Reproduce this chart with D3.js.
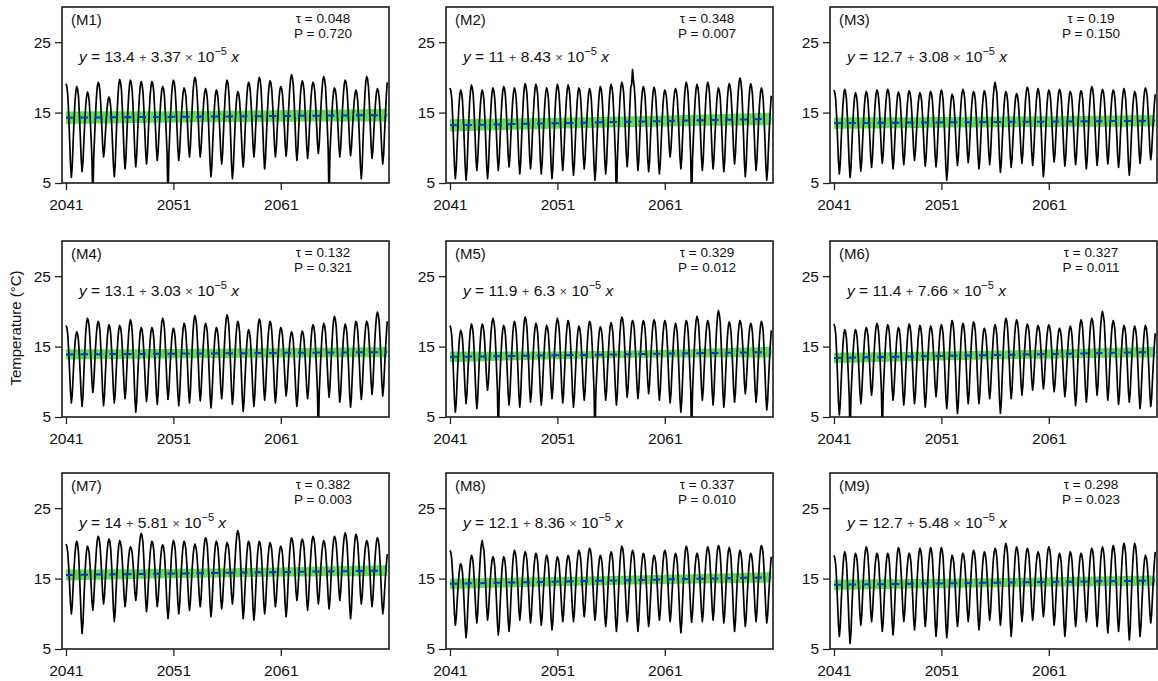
<!DOCTYPE html>
<html>
<head>
<meta charset="utf-8">
<script src="https://cdn.jsdelivr.net/npm/d3@7"></script>
<style>
  body { margin: 0; background: #fff; }
  svg { display: block; }
  text { font-family: "Liberation Sans", Arial, Helvetica, sans-serif; }
</style>
</head>
<body>
<svg id="chart" width="1158" height="681"></svg>
<script>
// Model labels and Mann-Kendall / Sen trend statistics for each panel
const panelLabels = ["M1", "M2", "M3", "M4", "M5", "M6", "M7", "M8", "M9"];
const tauValues = ["0.048", "0.348", "0.19", "0.132", "0.329", "0.327", "0.382", "0.337", "0.298"];
const pValues = ["0.720", "0.007", "0.150", "0.321", "0.012", "0.011", "0.003", "0.010", "0.023"];
// Trend line: y = intercept + slope × 10^-5 × (days since 1970-01-01)
const intercepts = ["13.4", "11", "12.7", "13.1", "11.9", "11.4", "14", "12.1", "12.7"];
const slopes = ["3.37", "8.43", "3.08", "3.03", "6.3", "7.66", "5.81", "8.36", "5.48"];
// Half-width (°C) of the trend confidence band at mid-period and at the period ends
const bandHalfMid = [0.80, 0.76, 0.75, 0.66, 0.52, 0.62, 0.64, 0.64, 0.64];
const bandHalfEnd = [0.90, 0.88, 0.82, 0.72, 0.76, 0.75, 0.78, 0.74, 0.74];
const yTicks = [5, 15, 25];
const xTicks = [2041, 2051, 2061];
const startYear = 2041;

// Monthly mean temperature (°C), Jan 2041 – Dec 2070, one row per year
const tempM1 = [
19.1,18.7,17.5,14.8,11.4,7.8,5.8,7.4,10.7,13.8,16.4,18.0,
18.7,18.3,17.3,14.8,11.7,8.4,6.6,8.0,10.9,13.6,15.9,17.3,
17.9,17.6,16.6,14.4,11.6,8.6,2.0,8.5,11.7,14.6,17.1,18.7,
19.3,19.0,18.0,15.9,13.2,10.3,8.7,9.7,11.9,14.0,15.7,16.8,
17.2,16.9,15.8,13.6,10.6,7.6,5.9,7.6,11.1,14.5,17.2,19.0,
19.7,19.3,18.2,15.6,12.3,8.9,7.0,8.5,11.8,14.8,17.3,19.0,
19.6,19.2,18.1,15.7,12.5,9.1,7.3,8.8,11.9,14.8,17.2,18.8,
19.4,19.0,18.0,15.7,12.6,9.5,7.7,9.1,12.1,15.0,17.3,18.8,
19.4,19.1,18.1,15.8,12.9,9.9,8.2,9.5,12.2,14.7,16.8,18.2,
18.7,18.4,17.4,15.1,12.2,9.2,2.0,9.0,12.1,15.0,17.4,19.0,
19.6,19.3,18.2,16.0,13.0,9.9,8.2,9.4,12.1,14.6,16.6,18.0,
18.5,18.2,17.3,15.4,12.8,10.2,8.7,10.1,13.0,15.7,18.0,19.4,
20.0,19.7,18.6,16.4,13.5,10.4,8.7,9.9,12.4,14.7,16.7,17.9,
18.4,18.0,16.9,14.4,11.2,7.8,5.9,7.4,10.6,13.5,16.0,17.6,
18.2,17.9,16.9,14.8,12.1,9.3,7.7,9.1,12.2,15.1,17.5,19.0,
19.6,19.2,17.9,15.1,11.5,7.7,5.6,7.1,10.3,13.3,15.8,17.4,
18.0,17.7,16.7,14.6,11.8,8.9,7.3,8.7,11.9,14.7,17.1,18.7,
19.3,19.0,18.0,15.9,13.2,10.3,8.7,10.1,13.0,15.7,18.0,19.4,
20.0,19.6,18.4,15.8,12.5,9.0,7.0,8.5,11.8,14.8,17.3,18.9,
19.5,19.2,18.2,16.0,13.2,10.3,8.7,9.9,12.5,14.9,16.9,18.2,
18.7,18.4,17.5,15.5,13.0,10.3,8.8,10.2,13.2,16.0,18.3,19.8,
20.4,20.0,18.9,16.5,13.3,10.0,8.2,9.6,12.5,15.2,17.5,18.9,
19.5,19.2,18.2,16.0,13.1,10.2,8.5,9.8,12.6,15.2,17.4,18.8,
19.3,19.0,18.1,16.1,13.4,10.7,9.2,10.5,13.3,16.0,18.1,19.6,
20.1,19.7,18.7,16.2,13.1,9.8,2.0,9.3,12.0,14.5,16.6,18.0,
18.5,18.2,17.3,15.4,12.8,10.2,8.7,10.0,12.8,15.5,17.6,19.1,
19.6,19.3,18.3,16.2,13.4,10.5,8.9,10.0,12.4,14.7,16.5,17.7,
18.2,17.8,16.7,14.2,10.9,7.5,5.6,7.3,11.1,14.6,17.5,19.4,
20.1,19.8,18.7,16.4,13.4,10.2,8.5,9.7,12.3,14.6,16.6,17.9,
18.4,18.1,17.1,15.0,12.2,9.3,7.7,9.1,12.1,14.9,17.5,19.3
];
const tempM2 = [
18.5,18.1,17.0,14.4,11.0,7.5,5.6,7.1,10.4,13.4,15.9,17.6,
18.2,17.8,16.7,14.1,10.8,7.3,5.4,7.0,10.5,13.8,16.5,18.2,
18.9,18.5,17.5,15.0,11.9,8.6,6.8,8.2,11.1,13.9,16.1,17.6,
18.2,17.8,16.7,14.2,10.9,7.5,5.6,7.2,10.5,13.6,16.2,17.9,
18.5,18.1,17.1,14.8,11.7,8.6,6.8,8.2,11.3,14.2,16.6,18.1,
18.7,18.4,17.3,15.1,12.1,9.0,7.3,8.6,11.6,14.2,16.5,17.9,
18.5,18.1,17.0,14.6,11.4,8.1,6.3,7.8,11.2,14.2,16.8,18.5,
19.1,18.7,17.7,15.2,12.1,8.8,7.0,8.4,11.6,14.4,16.8,18.4,
19.0,18.6,17.5,14.9,11.6,8.2,6.3,7.8,10.9,13.9,16.3,17.9,
18.5,18.1,17.0,14.4,11.0,7.5,5.6,7.2,10.7,13.9,16.6,18.3,
19.0,18.6,17.5,15.1,11.9,8.6,6.8,8.3,11.4,14.3,16.7,18.3,
18.9,18.5,17.4,14.8,11.5,8.0,6.1,7.6,10.8,13.8,16.3,17.9,
18.5,18.2,17.1,14.8,11.8,8.7,7.0,8.4,11.3,14.1,16.3,17.8,
18.4,18.0,16.8,14.2,10.9,7.4,5.4,7.0,10.5,13.6,16.3,18.0,
18.7,18.3,17.2,14.7,11.5,8.2,6.3,7.8,11.1,14.2,16.7,18.4,
19.0,18.6,17.5,15.0,11.8,8.4,2.0,8.0,11.4,14.4,17.0,18.7,
19.3,18.9,17.9,15.5,12.3,9.1,7.3,9.0,12.5,15.9,18.6,19.0,
21.1,19.6,18.6,16.5,12.8,8.9,6.8,8.2,11.3,14.2,16.6,18.1,
18.7,18.3,17.3,14.8,11.7,8.4,6.6,8.0,11.2,14.0,16.4,18.0,
18.6,18.2,17.1,14.7,11.5,8.1,6.3,7.7,10.8,13.7,16.1,17.6,
18.2,17.9,17.1,15.2,12.7,10.1,8.7,9.9,12.4,14.7,16.7,17.9,
18.4,18.1,17.0,14.8,11.8,8.7,7.0,8.5,11.7,14.6,17.1,18.7,
19.3,18.9,17.8,15.3,12.1,8.7,2.0,8.3,11.4,14.4,16.8,18.4,
19.0,18.6,17.5,15.1,11.9,8.6,6.8,8.3,11.6,14.6,17.1,18.7,
19.3,18.9,17.8,15.4,12.2,8.8,7.0,8.4,11.4,14.1,16.4,17.9,
18.5,18.1,17.1,14.7,11.6,8.4,6.6,8.1,11.4,14.4,16.9,18.5,
19.1,18.8,17.7,15.5,12.5,9.4,7.7,9.2,12.3,15.3,17.7,19.3,
19.9,19.5,18.2,15.4,11.8,8.0,5.9,7.5,10.9,14.1,16.7,18.4,
19.1,18.7,17.6,15.2,12.0,8.6,6.8,8.2,11.2,14.1,16.4,17.9,
18.5,18.1,16.9,14.3,10.9,7.4,5.4,7.0,10.2,13.1,15.5,17.4
];
const tempM3 = [
18.2,17.8,16.8,14.4,11.3,8.1,6.3,7.7,10.9,13.7,16.1,17.7,
18.3,17.9,16.8,14.3,11.0,7.7,5.8,7.2,10.4,13.2,15.6,17.2,
17.8,17.5,16.5,14.2,11.4,8.4,6.7,8.1,11.0,13.7,16.0,17.4,
18.0,17.7,16.7,14.5,11.7,8.8,7.2,8.5,11.4,14.0,16.2,17.7,
18.2,17.9,16.9,14.9,12.2,9.4,7.8,9.1,11.8,14.3,16.4,17.8,
18.3,18.0,17.0,14.7,11.7,8.7,7.0,8.3,11.1,13.8,15.9,17.4,
17.9,17.6,16.7,14.6,11.9,9.1,7.6,8.9,11.6,14.1,16.2,17.6,
18.1,17.8,16.9,14.9,12.4,9.7,8.2,9.4,11.8,14.2,16.1,17.3,
17.8,17.5,16.6,14.5,11.8,9.0,7.4,8.7,11.4,14.0,16.1,17.5,
18.0,17.7,16.7,14.6,11.8,8.9,7.3,8.6,11.4,14.1,16.2,17.7,
18.2,17.8,16.7,14.1,10.8,7.3,5.4,6.9,10.0,13.0,15.4,17.0,
17.6,17.3,16.4,14.4,11.7,9.0,7.5,8.8,11.6,14.2,16.4,17.8,
18.3,18.0,17.1,15.0,12.3,9.5,7.9,9.1,11.7,14.2,16.2,17.5,
18.0,17.7,16.7,14.5,11.6,8.7,7.0,8.3,11.2,13.9,16.1,17.5,
18.1,17.8,16.8,14.7,12.0,9.2,7.6,9.0,12.0,14.9,17.2,18.7,
19.3,18.6,17.8,15.2,11.9,8.4,6.5,7.9,10.9,13.6,15.9,17.4,
18.0,17.7,16.7,14.5,11.7,8.8,7.2,8.5,11.2,13.7,15.8,17.2,
17.7,17.4,16.5,14.5,12.0,9.3,7.8,9.1,11.9,14.5,16.7,18.1,
18.6,18.3,17.3,15.0,12.2,9.2,7.5,8.8,11.6,14.3,16.4,17.9,
18.4,18.0,16.9,14.4,11.2,7.8,5.9,7.4,10.6,13.5,16.0,17.6,
18.2,17.9,17.0,14.9,12.3,9.5,8.0,9.2,11.9,14.4,16.4,17.8,
18.3,18.0,17.0,14.8,12.0,9.0,7.4,8.7,11.4,14.0,16.1,17.5,
18.0,17.7,16.8,14.7,12.0,9.2,7.6,8.9,11.6,14.1,16.2,17.6,
18.1,17.8,16.8,14.5,11.7,8.7,7.0,8.4,11.4,14.3,16.6,18.1,
18.7,18.4,17.4,15.1,12.2,9.2,7.5,8.8,11.6,14.2,16.4,17.8,
18.3,18.0,17.0,14.9,12.2,9.3,7.7,9.0,11.7,14.2,16.3,17.7,
18.2,17.9,16.9,14.7,11.8,8.9,7.2,8.5,11.5,14.1,16.4,17.8,
18.4,18.0,16.9,14.5,11.3,7.9,6.1,7.5,10.6,13.5,15.9,17.4,
18.0,17.7,16.8,14.7,12.1,9.3,7.8,9.1,11.9,14.4,16.6,18.0,
18.5,18.2,17.3,15.2,12.6,9.8,8.3,9.4,12.0,14.3,16.2,17.6
];
const tempM4 = [
18.0,17.7,16.7,14.5,11.6,8.7,7.0,8.2,10.8,13.3,15.3,16.6,
17.1,16.8,15.8,13.7,10.9,8.1,6.5,8.0,11.3,14.3,16.8,18.4,
19.0,18.7,17.7,15.6,12.9,10.1,8.5,9.7,12.3,14.8,16.8,18.1,
18.6,18.2,17.2,14.8,11.6,8.4,6.6,8.0,11.0,13.7,16.0,17.5,
18.1,17.8,16.8,14.5,11.7,8.7,7.0,8.3,11.2,13.8,16.0,17.5,
18.0,17.7,16.8,14.7,12.0,9.2,7.6,8.9,11.9,14.5,16.8,18.2,
18.8,18.4,17.2,14.6,11.2,7.7,5.7,7.1,10.3,13.1,15.5,17.1,
17.7,17.4,16.4,14.3,11.6,8.8,7.2,8.5,11.2,13.7,15.8,17.2,
17.7,17.4,16.4,14.2,11.4,8.4,6.8,8.3,11.4,14.4,16.8,18.4,
19.0,18.7,17.6,15.3,12.3,9.2,7.5,8.7,11.3,13.8,15.8,17.1,
17.6,17.3,16.3,14.1,11.2,8.3,6.6,8.0,11.0,13.9,16.2,17.7,
18.3,18.0,16.9,14.7,11.7,8.7,7.0,8.5,11.7,14.7,17.2,18.8,
19.4,19.0,18.0,15.5,12.4,9.1,7.3,8.6,11.5,14.1,16.3,17.8,
18.3,17.9,16.9,14.5,11.3,8.1,6.3,7.7,10.6,13.4,15.6,17.1,
17.7,17.4,16.5,14.5,11.8,9.1,7.6,9.0,12.1,15.0,17.4,18.9,
19.5,19.1,18.0,15.4,12.1,8.7,6.8,8.2,11.3,14.1,16.5,18.0,
18.6,18.2,17.1,14.5,11.2,7.7,5.8,7.2,10.2,13.0,15.3,16.8,
17.4,17.1,16.1,13.9,11.1,8.1,6.5,8.0,11.2,14.2,16.7,18.3,
18.9,18.6,17.5,15.2,12.2,9.1,7.4,8.7,11.7,14.3,16.6,18.0,
18.6,18.3,17.2,14.9,11.9,8.7,7.0,8.3,11.1,13.6,15.8,17.2,
17.7,17.4,16.5,14.6,12.1,9.5,8.0,9.1,11.5,13.6,15.5,16.6,
17.1,16.8,15.8,13.7,10.9,8.1,6.5,7.8,10.6,13.1,15.3,16.7,
17.2,16.9,16.0,14.1,11.6,9.0,7.6,8.9,11.6,14.1,16.2,17.6,
18.1,17.8,16.8,14.5,11.7,8.7,2.0,8.4,11.3,14.0,16.3,17.7,
18.3,18.0,17.0,14.9,12.2,9.4,7.8,9.2,12.2,14.9,17.2,18.7,
19.3,18.9,17.8,15.4,12.2,8.9,7.1,8.4,11.3,14.0,16.2,17.6,
18.2,17.8,16.8,14.4,11.4,8.2,6.4,7.9,11.0,14.0,16.4,18.0,
18.6,18.3,17.3,15.0,12.2,9.2,7.5,8.8,11.7,14.4,16.6,18.0,
18.6,18.3,17.4,15.3,12.6,9.8,8.2,9.6,12.6,15.5,17.8,19.3,
19.9,19.5,18.5,16.1,13.0,9.8,8.0,9.3,12.0,14.6,16.7,18.6
];
const tempM5 = [
18.0,17.6,16.5,14.1,10.9,7.5,5.7,7.1,10.1,12.9,15.2,16.7,
17.3,17.0,16.1,14.0,11.3,8.5,6.9,8.3,11.2,13.9,16.2,17.6,
18.2,17.8,16.8,14.4,11.2,8.0,6.2,7.6,10.8,13.6,16.0,17.6,
18.2,17.9,17.1,15.2,12.7,10.2,8.8,10.0,12.7,15.1,17.2,18.5,
19.0,18.6,17.6,15.2,12.0,8.8,2.0,8.3,11.2,13.8,16.0,17.5,
18.0,17.7,16.6,14.4,11.4,8.4,6.7,8.1,11.2,14.1,16.5,18.0,
18.6,18.2,17.1,14.7,11.5,8.2,6.4,7.9,11.3,14.3,16.9,18.6,
19.2,18.8,17.7,15.3,12.2,8.9,7.1,8.4,11.4,14.0,16.3,17.7,
18.3,18.0,16.9,14.6,11.6,8.4,6.7,8.1,11.0,13.7,16.0,17.4,
18.0,17.7,16.8,14.7,12.0,9.2,7.6,9.0,11.9,14.7,17.0,18.4,
19.0,18.6,17.6,15.2,12.0,8.8,7.0,8.4,11.4,14.3,16.6,18.1,
18.7,18.3,17.2,14.8,11.6,8.2,6.4,7.8,10.8,13.5,15.8,17.3,
17.9,17.6,16.6,14.5,11.8,9.0,7.4,8.7,11.7,14.3,16.6,18.0,
18.6,18.3,17.2,14.9,11.9,8.7,2.0,8.3,11.1,13.7,15.9,17.3,
17.8,17.5,16.6,14.5,11.8,9.0,7.4,8.7,11.6,14.2,16.4,17.9,
18.4,18.0,17.0,14.7,11.6,8.5,6.7,8.2,11.5,14.5,17.0,18.6,
19.2,18.9,17.8,15.6,12.6,9.5,7.8,9.1,11.9,14.6,16.7,18.2,
18.7,18.4,17.4,15.1,12.3,9.3,7.6,8.9,11.8,14.5,16.7,18.1,
18.7,18.4,17.5,15.4,12.7,9.9,8.3,9.6,12.3,14.8,16.9,18.3,
18.8,18.5,17.4,15.2,12.2,9.1,7.4,8.8,11.7,14.4,16.7,18.1,
18.7,18.4,17.3,15.0,11.9,8.8,7.0,8.4,11.3,14.0,16.3,17.7,
18.3,17.9,16.8,14.3,11.0,7.6,5.7,7.3,10.6,13.8,16.4,18.1,
18.7,18.4,17.3,15.0,11.9,8.8,2.0,8.5,11.7,14.6,17.1,18.7,
19.3,18.9,17.9,15.5,12.4,9.2,7.4,8.8,11.7,14.4,16.7,18.1,
18.7,18.3,17.3,14.9,11.7,8.5,6.7,8.3,11.8,15.0,17.7,19.4,
20.1,19.5,18.5,15.7,12.2,8.5,6.4,7.9,11.0,13.9,16.3,17.9,
18.5,18.2,17.1,14.9,11.9,8.8,7.1,8.5,11.5,14.3,16.6,18.1,
18.7,18.4,17.5,15.4,12.7,9.9,8.3,9.5,12.1,14.5,16.5,17.8,
18.3,18.0,17.0,14.7,11.8,8.8,7.1,8.5,11.5,14.2,16.5,18.0,
18.6,18.2,17.1,14.6,11.3,7.9,6.0,7.4,10.3,13.0,15.3,17.3
];
const tempM6 = [
18.2,17.8,16.7,14.1,10.7,7.2,5.3,6.8,9.9,12.8,15.2,16.8,
17.4,17.1,16.1,13.9,11.1,8.1,2.0,7.8,10.6,13.3,15.4,16.9,
17.4,17.1,16.1,14.0,11.3,8.5,6.9,8.2,11.0,13.6,15.8,17.2,
17.7,17.4,16.5,14.6,12.1,9.5,8.1,9.3,12.0,14.4,16.5,17.8,
18.3,18.0,16.9,14.7,11.7,8.7,2.0,8.3,11.2,13.9,16.1,17.5,
18.1,17.8,16.8,14.7,11.9,9.0,7.4,8.6,11.3,13.8,15.8,17.2,
17.7,17.4,16.4,14.2,11.3,8.4,6.7,8.1,11.1,13.8,16.1,17.6,
18.2,17.9,16.8,14.6,11.6,8.6,6.9,8.2,11.1,13.8,16.0,17.4,
18.0,17.7,16.6,14.3,11.3,8.1,6.4,7.8,10.8,13.5,15.8,17.3,
17.9,17.6,16.7,14.7,12.1,9.4,7.9,9.1,11.8,14.2,16.3,17.6,
18.1,17.7,16.7,14.3,11.2,8.0,6.2,7.7,11.0,14.0,16.5,18.1,
18.7,18.3,17.1,14.5,11.0,7.5,5.5,7.0,10.4,13.4,16.0,17.7,
18.3,18.0,16.9,14.7,11.7,8.6,6.9,8.3,11.3,14.1,16.4,17.9,
18.5,18.2,17.1,14.8,11.8,8.6,6.9,8.2,11.0,13.5,15.7,17.1,
17.6,17.3,16.4,14.4,11.8,9.1,7.6,8.9,11.6,14.1,16.2,17.6,
18.1,17.7,16.6,14.1,10.8,7.4,5.5,7.1,10.6,13.9,16.6,18.3,
19.0,18.7,17.6,15.4,12.4,9.3,7.6,8.9,11.9,14.5,16.8,18.2,
18.8,18.5,17.5,15.4,12.6,9.7,8.1,9.3,11.9,14.4,16.4,17.7,
18.2,17.9,17.1,15.2,12.7,10.2,8.8,9.9,12.3,14.5,16.3,17.5,
18.0,17.7,16.9,15.1,12.8,10.4,9.0,10.1,12.5,14.6,16.5,17.6,
18.1,17.8,17.0,15.1,12.6,10.0,8.6,9.7,12.0,14.2,16.0,17.2,
17.6,17.3,16.4,14.5,12.0,9.4,7.9,9.1,11.7,14.1,16.1,17.4,
17.9,17.6,16.5,14.3,11.3,8.3,6.6,8.1,11.2,14.2,16.6,18.2,
18.8,18.5,17.4,15.1,12.0,8.9,7.1,8.5,11.6,14.5,16.9,18.4,
19.0,18.7,17.7,15.5,12.7,9.7,8.1,9.5,12.6,15.5,17.9,19.4,
20.0,19.4,18.5,16.0,12.7,9.3,7.4,8.8,11.7,14.4,16.7,18.1,
18.7,18.3,17.3,14.9,11.8,8.6,6.8,8.1,11.1,13.7,16.0,17.4,
18.0,17.7,16.7,14.5,11.7,8.7,7.1,8.4,11.2,13.8,16.0,17.4,
17.9,17.5,16.5,14.2,11.1,8.0,6.2,7.6,10.7,13.5,15.9,17.4,
18.0,17.7,16.6,14.3,11.3,8.2,6.5,7.8,10.5,13.0,15.2,16.9
];
const tempM7 = [
19.9,19.6,18.7,16.7,14.2,11.5,10.0,11.2,13.9,16.4,18.4,19.8,
20.3,19.9,18.7,16.1,12.7,9.2,7.2,8.7,11.9,14.9,17.4,19.0,
19.6,19.3,18.5,16.7,14.3,11.9,10.5,11.8,14.5,17.0,19.1,20.5,
21.0,20.7,19.8,17.9,15.4,12.8,11.4,12.5,14.9,17.1,18.9,20.1,
20.6,20.3,19.2,16.9,13.8,10.7,8.9,10.3,13.3,16.0,18.3,19.8,
20.4,20.1,19.3,17.4,14.9,12.4,11.0,12.0,14.2,16.3,18.0,19.1,
19.5,19.3,18.6,17.1,15.1,13.0,11.9,13.0,15.5,17.8,19.7,20.9,
21.4,21.1,20.1,17.8,15.0,12.0,10.3,11.5,14.1,16.5,18.5,19.8,
20.3,20.0,19.2,17.3,14.9,12.4,11.0,12.1,14.3,16.5,18.2,19.4,
19.8,19.5,18.5,16.4,13.7,10.9,9.3,10.6,13.5,16.2,18.4,19.8,
20.4,20.1,19.2,17.1,14.4,11.6,10.0,11.2,13.9,16.4,18.4,19.8,
20.3,20.0,19.1,17.2,14.6,12.0,10.5,11.6,14.1,16.3,18.2,19.4,
19.9,19.6,18.8,17.1,14.7,12.3,11.0,12.2,14.7,17.1,19.0,20.3,
20.8,20.5,19.5,17.2,14.3,11.3,9.6,10.9,13.7,16.2,18.4,19.8,
20.3,20.0,19.1,17.2,14.7,12.1,10.7,11.8,14.3,16.5,18.4,19.6,
20.1,19.8,19.1,17.3,15.1,12.7,11.4,12.6,15.4,17.8,19.9,21.3,
21.8,21.4,20.3,17.8,14.5,11.2,9.3,10.6,13.5,16.1,18.3,19.8,
20.3,20.0,19.0,16.7,13.8,10.8,9.1,10.4,13.4,16.0,18.3,19.7,
20.3,20.0,19.1,17.0,14.3,11.5,10.0,11.2,13.8,16.3,18.3,19.6,
20.1,19.8,19.0,17.2,14.8,12.4,11.0,12.0,14.3,16.3,18.1,19.2,
19.6,19.3,18.4,16.4,13.8,11.1,9.6,10.9,13.9,16.5,18.8,20.2,
20.8,20.5,19.7,18.0,15.6,13.2,11.9,12.9,15.2,17.3,19.0,20.2,
20.6,20.3,19.4,17.4,14.7,12.0,10.5,11.8,14.5,17.0,19.1,20.5,
21.0,20.7,19.8,17.9,15.4,12.8,11.4,12.5,14.8,17.0,18.8,19.9,
20.4,20.1,19.2,17.3,14.8,12.2,10.7,11.9,14.6,17.1,19.1,20.5,
21.0,20.7,19.9,18.1,15.7,13.3,11.9,13.1,15.5,17.9,19.8,21.0,
21.5,21.1,20.0,17.6,14.4,11.1,9.3,10.7,13.9,16.7,19.1,20.7,
21.3,21.0,20.1,18.1,15.6,12.9,11.4,12.5,14.8,17.0,18.8,19.9,
20.4,20.1,19.3,17.4,14.9,12.4,11.0,12.2,14.7,17.1,19.0,20.3,
20.8,20.5,19.5,17.3,14.5,11.6,10.0,11.0,13.2,15.3,17.0,18.5
];
const tempM8 = [
19.0,18.7,17.7,15.6,12.9,10.0,8.4,9.4,11.7,13.8,15.5,16.7,
17.1,16.8,15.8,13.7,11.0,8.2,6.6,8.0,11.0,13.9,16.2,17.7,
18.3,18.0,17.1,15.2,12.7,10.1,8.7,10.1,13.1,16.0,18.3,19.8,
20.4,19.6,19.0,16.8,13.8,10.8,9.1,10.2,12.5,14.7,16.5,17.6,
18.1,17.8,16.8,14.5,11.7,8.7,7.0,8.3,11.2,13.9,16.1,17.5,
18.1,17.8,16.8,14.7,11.9,9.1,7.5,8.9,11.9,14.6,16.9,18.4,
19.0,18.7,17.8,15.8,13.3,10.6,9.1,10.3,12.8,15.1,17.1,18.3,
18.8,18.5,17.6,15.6,12.9,10.2,8.7,9.9,12.5,14.8,16.8,18.1,
18.6,18.3,17.4,15.3,12.7,9.9,8.4,9.6,12.2,14.5,16.5,17.8,
18.3,18.0,17.0,14.9,12.1,9.3,7.7,8.9,11.7,14.1,16.2,17.6,
18.1,17.8,17.0,15.2,12.8,10.3,8.9,10.0,12.5,14.7,16.6,17.8,
18.3,18.0,17.2,15.3,12.8,10.3,8.9,10.1,12.7,15.2,17.2,18.5,
19.0,18.7,17.9,16.0,13.5,11.0,9.6,10.8,13.3,15.6,17.6,18.8,
19.3,19.0,18.1,16.0,13.4,10.6,9.1,10.2,12.6,14.8,16.6,17.8,
18.3,18.0,17.1,15.1,12.4,9.7,8.2,9.5,12.2,14.8,16.9,18.3,
18.8,18.5,17.4,15.2,12.2,9.2,7.5,9.0,12.1,15.0,17.4,19.0,
19.6,19.3,18.3,16.2,13.4,10.5,8.9,10.1,12.7,15.2,17.2,18.5,
19.0,18.7,17.6,15.3,12.3,9.2,7.5,8.8,11.7,14.4,16.6,18.0,
18.6,18.3,17.4,15.3,12.6,9.8,8.2,9.4,12.0,14.5,16.5,17.8,
18.3,18.0,17.2,15.4,13.0,10.5,9.1,10.3,12.9,15.2,17.2,18.5,
19.0,18.7,17.8,15.8,13.1,10.4,8.9,10.1,12.6,14.9,16.9,18.1,
18.6,18.3,17.2,15.0,12.0,9.0,7.3,8.8,12.0,14.9,17.4,19.0,
19.6,19.3,18.3,16.1,13.3,10.4,8.8,10.0,12.5,14.9,16.8,18.1,
18.6,18.3,17.4,15.5,13.0,10.4,8.9,10.2,12.9,15.5,17.6,19.0,
19.5,19.2,18.3,16.2,13.5,10.7,9.1,10.4,13.1,15.7,17.8,19.2,
19.7,19.4,18.4,16.2,13.3,10.4,8.7,10.0,12.8,15.3,17.5,18.9,
19.4,19.0,18.0,15.6,12.5,9.3,7.5,8.9,11.9,14.6,16.9,18.4,
19.0,18.7,17.7,15.5,12.7,9.8,8.2,9.4,12.2,14.6,16.7,18.1,
18.6,18.3,17.4,15.5,13.0,10.4,8.9,10.2,13.0,15.6,17.8,19.2,
19.7,19.4,18.4,16.2,13.3,10.4,8.7,9.8,12.3,14.5,16.5,18.1
];
const tempM9 = [
18.3,17.9,16.9,14.6,11.6,8.5,6.8,8.2,11.4,14.2,16.6,18.2,
18.8,18.4,17.2,14.6,11.3,7.8,5.8,7.3,10.7,13.7,16.3,18.0,
18.6,18.3,17.4,15.3,12.7,9.9,8.4,9.7,12.6,15.3,17.5,18.9,
19.5,19.2,18.2,16.1,13.4,10.5,8.9,10.1,12.6,14.9,16.9,18.1,
18.6,18.3,17.3,15.0,12.2,9.2,7.5,8.8,11.7,14.4,16.6,18.0,
18.6,18.3,17.2,14.9,11.9,8.7,7.0,8.5,11.7,14.7,17.2,18.8,
19.4,19.1,18.1,16.0,13.3,10.5,8.9,10.1,12.6,14.9,16.9,18.1,
18.6,18.3,17.3,15.1,12.3,9.3,7.7,9.1,12.1,14.9,17.2,18.7,
19.3,19.0,18.0,15.7,12.9,9.9,8.2,9.5,12.5,15.1,17.4,18.8,
19.4,19.0,17.9,15.4,12.1,8.7,6.8,8.3,11.6,14.6,17.1,18.8,
19.4,19.0,17.9,15.3,12.0,8.5,6.6,8.0,11.0,13.9,16.2,17.7,
18.3,18.0,17.1,15.1,12.4,9.7,8.2,9.4,12.2,14.6,16.7,18.1,
18.6,18.3,17.4,15.5,13.0,10.4,8.9,10.1,12.7,15.2,17.2,18.5,
19.0,18.7,17.6,15.4,12.4,9.4,7.7,9.0,11.9,14.6,16.8,18.2,
18.8,18.5,17.6,15.7,13.2,10.6,9.1,10.3,13.0,15.4,17.5,18.8,
19.3,19.0,18.0,15.8,13.0,10.0,8.4,9.8,12.8,15.6,17.9,19.4,
20.0,19.6,18.4,15.8,12.3,8.8,6.8,8.3,11.6,14.7,17.2,18.9,
19.5,19.2,18.2,16.1,13.4,10.5,8.9,10.1,12.9,15.3,17.4,18.8,
19.3,19.0,18.1,16.0,13.4,10.6,9.1,10.3,12.8,15.1,17.1,18.3,
18.8,18.5,17.7,15.9,13.5,11.0,9.6,10.8,13.4,15.7,17.7,19.0,
19.5,19.2,18.2,16.0,13.1,10.1,8.4,9.6,12.3,14.7,16.8,18.1,
18.6,18.2,17.2,14.8,11.8,8.6,6.8,8.2,11.4,14.2,16.6,18.2,
18.8,18.5,17.5,15.4,12.6,9.8,8.2,9.4,12.2,14.6,16.7,18.1,
18.6,18.3,17.4,15.5,13.0,10.4,8.9,10.1,12.9,15.3,17.4,18.8,
19.3,19.0,18.0,15.7,12.9,9.9,8.2,9.6,12.5,15.2,17.5,18.9,
19.5,19.1,18.0,15.6,12.4,9.1,7.3,8.8,12.0,15.0,17.5,19.1,
19.7,19.3,18.2,15.8,12.6,9.3,7.5,9.0,12.3,15.3,17.8,19.4,
20.0,19.6,18.4,15.6,12.1,8.4,6.3,7.9,11.5,14.8,17.5,19.3,
20.0,19.6,18.4,15.8,12.3,8.8,6.8,8.2,11.2,13.9,16.2,17.7,
18.3,18.0,17.1,15.2,12.7,10.1,8.7,10.0,12.7,15.2,17.3,18.8
];
const series = [tempM1, tempM2, tempM3, tempM4, tempM5, tempM6, tempM7, tempM8, tempM9];

// ---- layout ----
const svg = d3.select("#chart");
const W = 327, H = 176;
const colLeft = [62, 446, 830];
const rowTop = [7, 241, 473];
const TICK_FONT = 15.5;

const x = d3.scaleLinear().domain([2040.63, 2071.08]).range([0, W]);
const y = d3.scaleLinear().domain([5, 30]).range([H, 0]);

const DAY_MS = 86400000;
const months = d3.range(tempM1.length).map(i => {
  const yr = startYear + Math.floor(i / 12), m = i % 12;
  return { t: yr + m / 12, day: Date.UTC(yr, m, 1) / DAY_MS };
});

const lineGen = d3.line().x(p => x(p.t)).y(p => y(p.v));
const fitGen = d3.line().x(p => x(p.t)).y(p => y(p.fit));
const bandGen = d3.area().x(p => x(p.t)).y0(p => y(p.fit - p.half)).y1(p => y(p.fit + p.half));

series.forEach((vals, k) => {
  const g = svg.append("g")
    .attr("transform", `translate(${colLeft[k % 3]},${rowTop[Math.floor(k / 3)]})`);

  const clipId = "plot-clip-" + k;
  g.append("clipPath").attr("id", clipId)
    .append("rect").attr("width", W).attr("height", H);

  // fitted trend with its confidence band (narrowest at mid-period)
  const a = +intercepts[k], b = +slopes[k] * 1e-5;
  const d0 = months[0].day, d1 = months[months.length - 1].day;
  const dMid = (d0 + d1) / 2, dSpan = (d1 - d0) / 2;
  const hm = bandHalfMid[k], he = bandHalfEnd[k];
  const pts = months.map((mo, i) => {
    const u = (mo.day - dMid) / dSpan;
    return {
      t: mo.t, v: vals[i], fit: a + b * mo.day,
      half: Math.sqrt(hm * hm + (he * he - hm * hm) * u * u)
    };
  });

  const plot = g.append("g").attr("clip-path", `url(#${clipId})`);
  plot.append("path").datum(pts)
    .attr("d", bandGen)
    .attr("fill", "#5ce35c");
  plot.append("path").datum(pts)
    .attr("d", lineGen)
    .attr("fill", "none")
    .attr("stroke", "#000")
    .attr("stroke-width", 1.7)
    .attr("stroke-linejoin", "round");
  plot.append("path").datum(pts)
    .attr("d", fitGen)
    .attr("fill", "none")
    .attr("stroke", "#1030e6")
    .attr("stroke-width", 2)
    .attr("stroke-dasharray", "7.5,7");

  // axes
  const yAxis = g.append("g")
    .call(d3.axisLeft(y).tickValues(yTicks).tickSize(7).tickPadding(4));
  const xAxis = g.append("g")
    .attr("transform", `translate(0,${H})`)
    .call(d3.axisBottom(x).tickValues(xTicks).tickFormat(d3.format("d")).tickSize(7).tickPadding(9));
  [yAxis, xAxis].forEach(ax => {
    ax.select(".domain").remove();
    ax.attr("font-family", null).attr("font-size", null);
    ax.selectAll(".tick line").attr("stroke", "#222").attr("stroke-width", 1.3);
    ax.selectAll(".tick text").attr("fill", "#111").style("font-size", TICK_FONT + "px");
  });

  // frame
  g.append("rect")
    .attr("width", W).attr("height", H)
    .attr("fill", "none")
    .attr("stroke", "#1a1a1a")
    .attr("stroke-width", 1.6);

  // panel label
  g.append("text")
    .attr("x", 9).attr("y", 18)
    .style("font-size", "15px").attr("fill", "#111")
    .text(`(${panelLabels[k]})`);

  // Mann-Kendall statistics, two stacked lines
  g.append("text")
    .attr("x", 261).attr("y", 15.5)
    .attr("text-anchor", "middle")
    .style("font-size", "13.5px").attr("fill", "#111")
    .text(`τ = ${tauValues[k]}`);
  g.append("text")
    .attr("x", 261).attr("y", 30.8)
    .attr("text-anchor", "middle")
    .style("font-size", "13.5px").attr("fill", "#111")
    .text(`P = ${pValues[k]}`);

  // regression equation
  const eq = g.append("text")
    .attr("x", 17).attr("y", 55)
    .style("font-size", "15.5px")
    .style("white-space", "pre")
    .attr("fill", "#111");
  eq.append("tspan").style("font-style", "italic").text("y");
  eq.append("tspan").text(` = ${intercepts[k]} `);
  eq.append("tspan").style("font-size", "13px").attr("fill", "#444").text("+");
  eq.append("tspan").text(` ${slopes[k]} `);
  eq.append("tspan").style("font-size", "13px").attr("fill", "#444").text("×");
  eq.append("tspan").text(" 10");
  eq.append("tspan").style("font-size", "11px").attr("dy", -7).text("−5");
  eq.append("tspan").attr("dy", 7).text(" ");
  eq.append("tspan").style("font-style", "italic").text("x");
});

// shared y-axis title
svg.append("text")
  .attr("transform", "translate(21,328) rotate(-90)")
  .attr("text-anchor", "middle")
  .style("font-size", "15px")
  .attr("fill", "#111")
  .text("Temperature (°C)");
</script>
</body>
</html>
